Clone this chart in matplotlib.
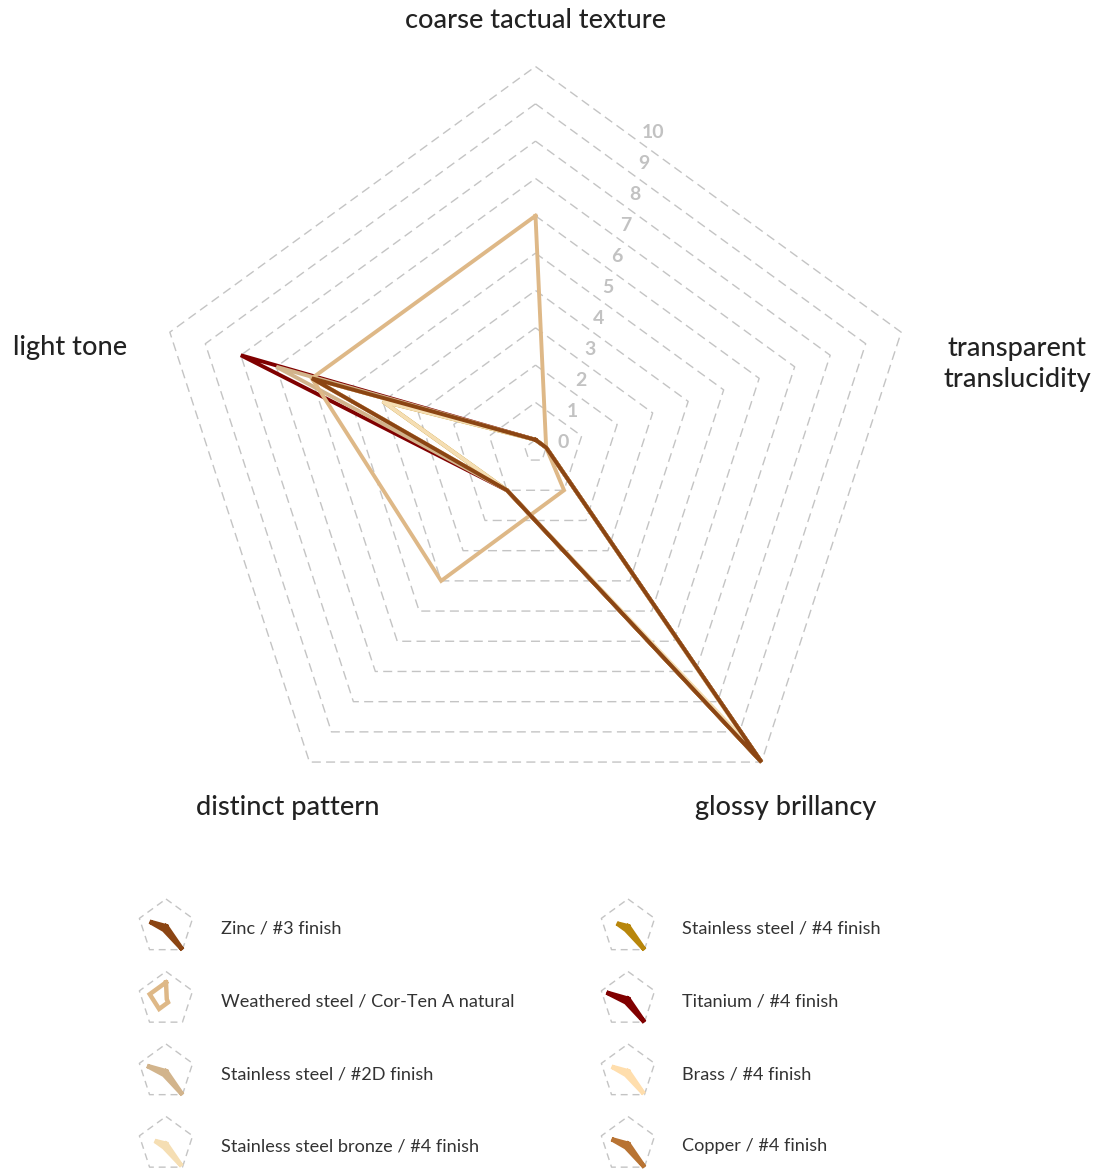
import numpy as np
import matplotlib
matplotlib.use("Agg")
import matplotlib.pyplot as plt

plt.rcParams['font.family'] = ['Lato', 'DejaVu Sans']

# Axes of the radar, clockwise from the top
dimensions = ["coarse tactual texture", "transparent\ntranslucidity",
              "glossy brillancy", "distinct pattern", "light tone"]

# Ratings per material (same order as dimensions)
zinc_3 = [0, 0, 10, 1, 6]
weathered_corten = [6, 0, 1, 4, 6]
stainless_2d = [0, 0, 10, 1, 7]
stainless_bronze_4 = [0, 0, 9.5, 1, 4]
stainless_4 = [0, 0, 10, 1, 4]
titanium_4 = [0, 0, 10, 1, 8]
brass_4 = [0, 0, 9.6, 1, 6]
copper_4 = [0, 0, 10, 1, 6]

names = ["Zinc / #3 finish", "Weathered steel / Cor-Ten A natural",
         "Stainless steel / #2D finish", "Stainless steel bronze / #4 finish",
         "Stainless steel / #4 finish", "Titanium / #4 finish",
         "Brass / #4 finish", "Copper / #4 finish"]
values = [zinc_3, weathered_corten, stainless_2d, stainless_bronze_4,
          stainless_4, titanium_4, brass_4, copper_4]
colors = ["#8B4513", "#DEB887", "#D2B48C", "#F5DEB3",
          "#B8860B", "#800000", "#FFDEAD", "#B87333"]

ring_levels = list(range(0, 11))

W, H = 1101, 1169
fig = plt.figure(figsize=(W / 100, H / 100), dpi=100)

GRID = "#C4C4C4"
RMIN, RMAX = -0.3, 10

n = len(dimensions)
theta = np.arange(n) * 2 * np.pi / n
theta_c = np.append(theta, theta[0])


def radar_axes(cx, cy, R):
    a = fig.add_axes([(cx - R) / W, 1 - (cy + R) / H, 2 * R / W, 2 * R / H],
                     projection='polar')
    a.set_theta_zero_location('N')
    a.set_theta_direction(-1)
    a.set_ylim(RMIN, RMAX)
    a.axis('off')
    return a


# main chart
cx, cy, R = 535.5, 451, 384.5
ax = radar_axes(cx, cy, R)
for lv in ring_levels:
    ln, = ax.plot(theta_c, [lv] * (n + 1), color=GRID, lw=1.0, clip_on=False)
    ln.set_dashes((6.5, 3.8))

for vals, col in reversed(list(zip(values, colors))):
    ax.plot(theta_c, vals + vals[:1], color=col, lw=2.8, clip_on=False,
            solid_joinstyle='miter', zorder=3)

# ring value labels
for lv in ring_levels:
    fig.text((cx + 27.5 + 9 * lv) / W, 1 - (cy - 8 - 31.1 * lv) / H, str(lv),
             ha='center', va='center', fontsize=14, color="#C2C2C2",
             fontweight='bold')

# dimension labels
label_pos = [(536, 20), (1017, 364), (786, 808), (288, 808), (70, 348)]
for text, (x, y) in zip(dimensions, label_pos):
    fig.text(x / W, 1 - y / H, text, ha='center', va='center', fontsize=19.5,
             color="#222222", linespacing=1.3, fontweight='medium')

# legend with miniature radars
row_y = [927, 999.5, 1072, 1144.5]
col_icon_x = [166, 628]
col_text_x = [221, 682]
for i, (name, vals, col) in enumerate(zip(names, values, colors)):
    c, r = divmod(i, 4)
    ia = radar_axes(col_icon_x[c], row_y[r], 28)
    ln, = ia.plot(theta_c, [10] * (n + 1), color=GRID, lw=1.0, clip_on=False)
    ln.set_dashes((5, 3.5))
    ia.plot(theta_c, vals + vals[:1], color=col, lw=3.2, clip_on=False,
            solid_joinstyle='miter')
    fig.text(col_text_x[c] / W, 1 - (row_y[r] + 2) / H, name, ha='left',
             va='center', fontsize=13.1, color="#333333")

fig.savefig("out.png", dpi=100)
